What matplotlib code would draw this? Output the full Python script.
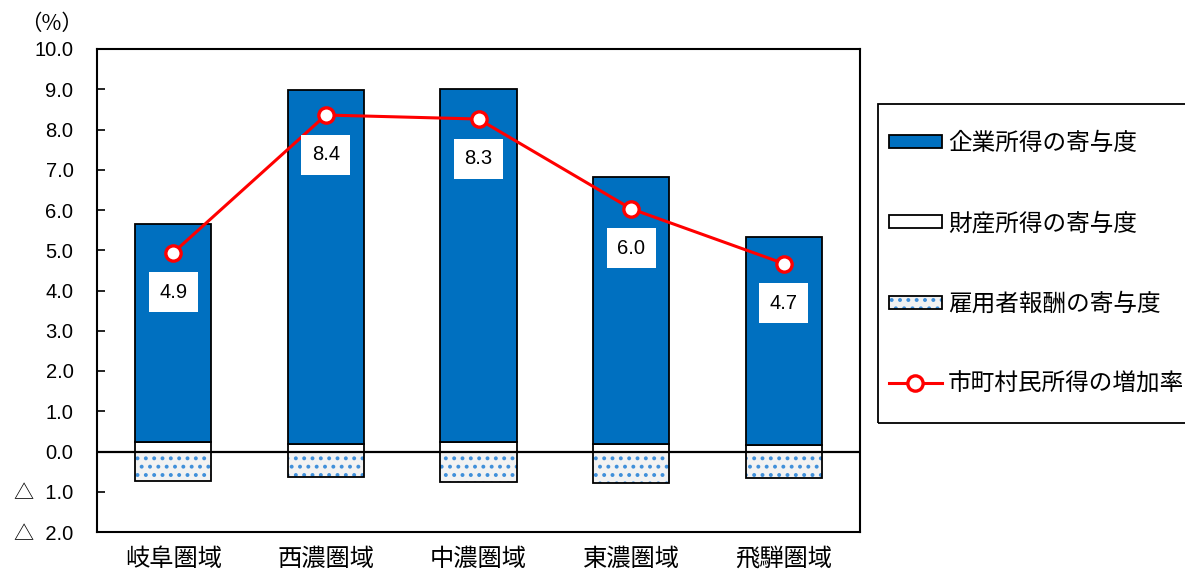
import matplotlib
matplotlib.use("Agg")
import matplotlib.pyplot as plt
import numpy as np
from matplotlib.patches import Rectangle
from matplotlib.ticker import FuncFormatter, MultipleLocator

plt.rcParams['font.family'] = ['Liberation Sans', 'Noto Sans CJK JP', 'DejaVu Sans']
plt.rcParams['hatch.linewidth'] = 1.6

categories = ['岐阜圏域', '西濃圏域', '中濃圏域', '東濃圏域', '飛騨圏域']
corporate = [5.43, 8.79, 8.77, 6.64, 5.18]      # 企業所得の寄与度
property_inc = [0.23, 0.19, 0.23, 0.18, 0.15]   # 財産所得の寄与度
employee = [-0.74, -0.63, -0.75, -0.79, -0.66]  # 雇用者報酬の寄与度
growth = [4.94, 8.36, 8.26, 6.03, 4.67]         # 市町村民所得の増加率
series_names = ['企業所得の寄与度', '財産所得の寄与度', '雇用者報酬の寄与度', '市町村民所得の増加率']

W, H = 1185, 578
fig = plt.figure(figsize=(W / 100, H / 100), dpi=100)
ax = fig.add_axes([97 / W, 1 - 532 / H, (860 - 97) / W, (532 - 49) / H])

x = np.arange(len(categories))
bw = 0.5
blue = '#0070C0'
dotblue = '#3F8FDA'
elw = 1.3

ax.bar(x, property_inc, bw, color='white', edgecolor='black', linewidth=elw, zorder=2)
ax.bar(x, corporate, bw, bottom=property_inc, color=blue, edgecolor='black', linewidth=elw, zorder=2)
ax.bar(x, employee, bw, color='#F2F2F2', edgecolor=dotblue, linewidth=0, hatch='..', zorder=2)
ax.bar(x, employee, bw, fill=False, edgecolor='black', linewidth=elw, zorder=2.1)

ax.axhline(0, color='black', linewidth=1.6, zorder=3)

ln, = ax.plot(x, growth, color='#FF0000', linewidth=2.2, marker='o', markersize=11,
              markerfacecolor='white', markeredgecolor='#FF0000', markeredgewidth=2.4, zorder=4)

for xi, g in zip(x, growth):
    ax.annotate(f'{g:.1f}', (xi, g), xytext=(0, -28.5), textcoords='offset points',
                ha='center', va='center', fontsize=14.5, zorder=6,
                bbox=dict(boxstyle='square,pad=0.52', facecolor='white', edgecolor='none'))

ax.set_xlim(-0.5, 4.5)
ax.set_ylim(-2, 10)
ax.yaxis.set_major_locator(MultipleLocator(1))

def yfmt(v, pos):
    if v < -1e-9:
        return f'△  {abs(v):.1f}'
    return f'{v:.1f}'

ax.yaxis.set_major_formatter(FuncFormatter(yfmt))
ax.tick_params(axis='y', direction='in', length=6, width=1.2, pad=17, labelsize=14.5)
ax.tick_params(axis='x', length=0, pad=12, labelsize=17.5)
ax.set_xticks(x)
ax.set_xticklabels(categories)
for s in ax.spines.values():
    s.set_linewidth(1.5)
    s.set_color('black')

fig.text(52 / W, 1 - 24 / H, '（%）', ha='center', va='center', fontsize=15.5,
         family=['Noto Sans CJK JP', 'DejaVu Sans'])

# legend frame
fig.patches.append(Rectangle((878 / W, 1 - 423 / H), (1200 - 878) / W, (423 - 104) / H,
                             transform=fig.transFigure, fill=False, edgecolor='black',
                             linewidth=1.3, clip_on=False))

h_corp = Rectangle((0, 0), 1, 1, facecolor=blue, edgecolor='black', linewidth=elw)
h_prop = Rectangle((0, 0), 1, 1, facecolor='white', edgecolor='black', linewidth=elw)
h_emp1 = Rectangle((0, 0), 1, 1, facecolor='#F2F2F2', edgecolor=dotblue, linewidth=0, hatch='..')
h_emp2 = Rectangle((0, 0), 1, 1, fill=False, edgecolor='black', linewidth=elw)
fig.legend([h_corp, h_prop, (h_emp1, h_emp2), ln], series_names,
           loc='center left', bbox_to_anchor=(884 / W, 1 - 264 / H),
           frameon=False, fontsize=17, handlelength=2.25, handleheight=0.45,
           handletextpad=0.25, labelspacing=2.45, borderpad=0.2, borderaxespad=0)

fig.savefig('out.png', dpi=100)
